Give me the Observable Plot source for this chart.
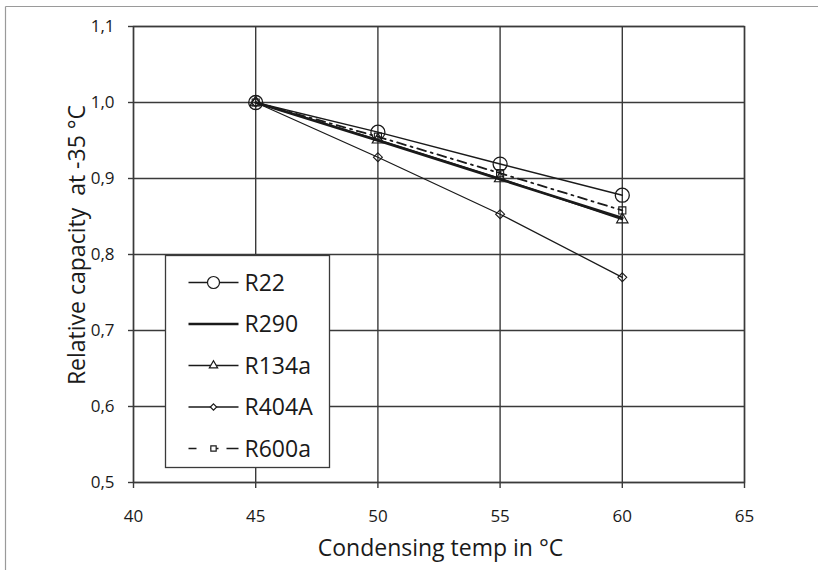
<!DOCTYPE html>
<html>
<head>
<meta charset="utf-8">
<script src="https://cdn.jsdelivr.net/npm/d3@7"></script>
<script src="https://cdn.jsdelivr.net/npm/@observablehq/plot@0.6"></script>
<style>
  html, body { margin: 0; padding: 0; background: #fff; }
  #chart { position: relative; width: 827px; height: 570px; overflow: hidden; }
  #chart svg { display: block; }
</style>
</head>
<body>
<div id="chart"></div>
<script>
// ---- data ----
const temps = [45, 50, 55, 60];
const R22   = [1.0, 0.961, 0.919, 0.878];
const R290  = [1.0, 0.950, 0.899, 0.848];
const R134a = [1.0, 0.951, 0.900, 0.846];
const R404A = [1.0, 0.928, 0.853, 0.770];
const R600a = [1.0, 0.955, 0.907, 0.858];
const seriesNames = ["R22", "R290", "R134a", "R404A", "R600a"];
const xTicks = [40, 45, 50, 55, 60, 65];
const yTicks = [0.5, 0.6, 0.7, 0.8, 0.9, 1.0, 1.1];
const xLabel = "Condensing temp in °C";
const yLabel = "Relative capacity\u00A0\u00A0at -35 °C";

const seriesValues = {R22, R290, R134a, R404A, R600a};
const rows = seriesNames.flatMap(s => temps.map((t, i) => ({series: s, temp: t, value: seriesValues[s][i]})));
const of = s => rows.filter(d => d.series === s);

const ink = "#1a1a1a";
const gridInk = "#3a3a3a";
const fontFamily = "'Open Sans', 'DejaVu Sans', sans-serif";
const fmt = v => d3.format(".1f")(v).replace(".", ",");

const W = 827, H = 570, mL = 133, mR = 83, mT = 26, mB = 88;

const plot = Plot.plot({
  width: W,
  height: H,
  marginLeft: mL,
  marginRight: mR,
  marginTop: mT,
  marginBottom: mB,
  style: {fontFamily, fontSize: "17px", color: ink, background: "white"},
  x: {domain: [40, 65]},
  y: {domain: [0.5, 1.1]},
  marks: [
    Plot.gridX(xTicks, {stroke: gridInk, strokeOpacity: 1, strokeWidth: 1.4}),
    Plot.gridY(yTicks, {stroke: gridInk, strokeOpacity: 1, strokeWidth: 1.4}),
    Plot.frame({stroke: gridInk, strokeWidth: 1.4}),
    Plot.axisX({ticks: xTicks, tickSize: 6, tickPadding: 21, stroke: gridInk, strokeWidth: 1.4, label: null, fontSize: 17}),
    Plot.axisY({ticks: yTicks, tickFormat: fmt, tickSize: 5, tickPadding: 14, stroke: gridInk, strokeWidth: 1.4, label: null, fontSize: 17}),
    Plot.line(of("R22"), {x: "temp", y: "value", stroke: ink, strokeWidth: 1.5}),
    Plot.line(of("R134a"), {x: "temp", y: "value", stroke: ink, strokeWidth: 1.5}),
    Plot.line(of("R404A"), {x: "temp", y: "value", stroke: ink, strokeWidth: 1.3}),
    Plot.line(of("R290"), {x: "temp", y: "value", stroke: ink, strokeWidth: 2.6}),
    Plot.line(of("R600a"), {x: "temp", y: "value", stroke: ink, strokeWidth: 1.8, strokeDasharray: "9,5,2,5"}),
    Plot.dot(of("R22"), {x: "temp", y: "value", symbol: "circle", r: 7, stroke: ink, strokeWidth: 1.3, fill: "none"}),
    Plot.dot(of("R134a"), {x: "temp", y: "value", symbol: "triangle", r: 4.2, stroke: ink, strokeWidth: 1.2, fill: "none"}),
    Plot.dot(of("R404A"), {x: "temp", y: "value", symbol: "diamond2", r: 4, stroke: ink, strokeWidth: 1.1, fill: "none"}),
    Plot.dot(of("R600a"), {x: "temp", y: "value", symbol: "square", r: 4, stroke: ink, strokeWidth: 1.1, fill: "none"})
  ]
});

document.getElementById("chart").appendChild(plot);
const svg = d3.select(plot);

// axis titles
svg.append("text").attr("x", (mL + W - mR) / 2 + 2).attr("y", 548).attr("dy", "0.36em")
  .attr("text-anchor", "middle").style("font-family", fontFamily).style("font-size", "23px").attr("fill", ink).text(xLabel);
svg.append("text").attr("transform", `translate(77,245) rotate(-90)`).attr("dy", "0.36em")
  .attr("text-anchor", "middle").style("font-family", fontFamily).style("font-size", "23px").attr("fill", ink).text(yLabel);

// light page border (top and left)
svg.append("line").attr("x1", 5.5).attr("x2", 818).attr("y1", 6.5).attr("y2", 6.5).attr("stroke", "#9a9a9a").attr("stroke-width", 1.2);
svg.append("line").attr("x1", 5.5).attr("x2", 5.5).attr("y1", 6.5).attr("y2", 570).attr("stroke", "#9a9a9a").attr("stroke-width", 1.2);

// legend
const symbolFor = {
  R22: d3.symbol(d3.symbolCircle, Math.PI * 36),
  R134a: d3.symbol(d3.symbolTriangle, 30),
  R404A: d3.symbol(d3.symbolDiamond2, 26),
  R600a: d3.symbol(d3.symbolSquare2, 36)
};
const lg = svg.append("g").attr("transform", "translate(165.5,255.5)");
lg.append("rect").attr("width", 164).attr("height", 212).attr("fill", "white").attr("stroke", gridInk).attr("stroke-width", 1.3);
seriesNames.forEach((s, i) => {
  const y = 27 + i * 41.5;
  const row = lg.append("g").attr("transform", `translate(0,${y})`);
  const line = row.append("line").attr("x1", 23).attr("x2", 73).attr("y1", 0).attr("y2", 0).attr("stroke", ink)
    .attr("stroke-width", s === "R290" ? 2.6 : 1.5);
  if (s === "R600a") line.attr("stroke-dasharray", "8,14,8").attr("stroke-width", 1.6);
  if (symbolFor[s]) {
    row.append("path").attr("d", symbolFor[s]()).attr("transform", "translate(48,0)")
      .attr("fill", "white").attr("stroke", ink).attr("stroke-width", 1.2);
  }
  row.append("text").attr("x", 79).attr("y", 0).attr("dy", "0.36em").attr("text-anchor", "start").text(s)
    .style("font-family", fontFamily).style("font-size", "23px").attr("fill", ink);
});
</script>
</body>
</html>
